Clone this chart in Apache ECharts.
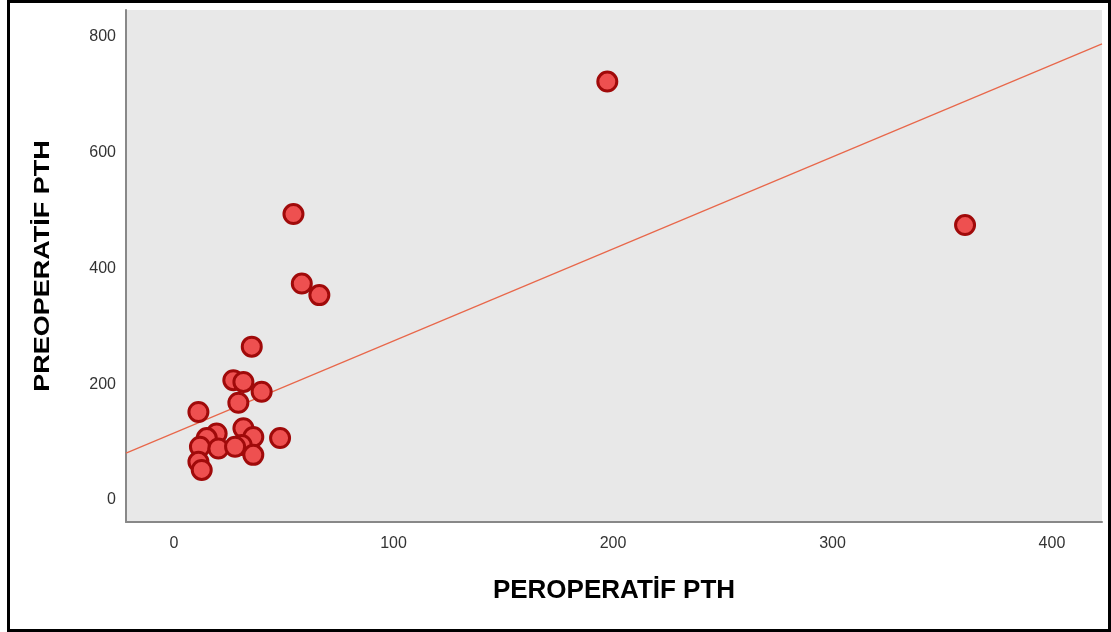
<!DOCTYPE html>
<html>
<head>
<meta charset="utf-8">
<script src="https://cdn.jsdelivr.net/npm/echarts@6/dist/echarts.min.js"></script>
<style>
html,body{margin:0;padding:0;background:#fff;}
#wrap{position:absolute;left:0;top:0;width:1111px;height:632px;}
#frame{position:absolute;left:7px;top:0px;width:1098px;height:626px;border:3px solid #000;pointer-events:none;}
#chart{position:absolute;left:0;top:0;width:1111px;height:632px;}
</style>
</head>
<body>
<div id="wrap"><div id="chart"></div><div id="frame"></div></div>
<script>
// Data
const peroperatifPTH = [11.1, 19.4, 14.9, 11.8, 20.2, 11.1, 12.6, 31.6, 36.1, 30.8, 27.8, 36.1, 48.3, 35.4, 27.0, 31.6, 39.9, 29.3, 197.4, 54.4, 58.2, 66.2, 360.4];
const preoperatifPTH = [152, 115, 107, 92, 89, 66, 52, 124, 109, 95, 92, 78, 107, 265, 207, 204, 187, 168, 723, 494, 374, 354, 475];
const xTicks = [0, 100, 200, 300, 400];
const yTicks = [0, 200, 400, 600, 800];
const xTitle = 'PEROPERATİF PTH';
const yTitle = 'PREOPERATİF PTH';
const fitIntercept = 115.8;
const fitSlope = 1.59;
const xRange = [-21.9, 422.8];
const yRange = [-38, 846.6];

const points = peroperatifPTH.map((x, i) => [x, preoperatifPTH[i]]);
const fitLine = xRange.map(x => [x, fitIntercept + fitSlope * x]);

const chart = echarts.init(document.getElementById('chart'), null, {renderer: 'canvas'});
chart.setOption({
  animation: false,
  backgroundColor: '#fff',
  grid: {left: 126, top: 10, right: 9, bottom: 110, show: true, backgroundColor: '#e8e8e8', borderWidth: 0},
  graphic: [{
    type: 'text', x: 43, y: 266, rotation: Math.PI / 2, scaleY: 0.8,
    style: {text: yTitle, font: 'bold 27px "Liberation Sans"', fill: '#000', textAlign: 'center', textVerticalAlign: 'middle'}
  }],
  xAxis: {
    type: 'value', min: xRange[0], max: xRange[1],
    name: xTitle, nameLocation: 'middle', nameGap: 56,
    nameTextStyle: {fontFamily: 'Liberation Sans', fontWeight: 'bold', fontSize: 26, color: '#000'},
    axisLine: {show: true, onZero: false, lineStyle: {color: '#888', width: 2}},
    axisTick: {show: false},
    splitLine: {show: false},
    axisLabel: {customValues: xTicks, margin: 14, fontFamily: 'Liberation Sans', fontSize: 16, color: '#333'}
  },
  yAxis: {
    type: 'value', min: yRange[0], max: yRange[1],
    axisLine: {show: true, onZero: false, lineStyle: {color: '#888', width: 2}},
    axisTick: {show: false},
    splitLine: {show: false},
    axisLabel: {customValues: yTicks, margin: 10, fontFamily: 'Liberation Sans', fontSize: 16, color: '#333'}
  },
  series: [
    {
      type: 'line', data: fitLine, symbol: 'none', silent: true,
      lineStyle: {color: '#e8674a', width: 1.2}, z: 3
    },
    {
      type: 'scatter', data: points, symbol: 'circle', symbolSize: 19,
      itemStyle: {color: '#ee5050', borderColor: '#a00a0a', borderWidth: 3, opacity: 1}, z: 4
    }
  ]
});
</script>
</body>
</html>
